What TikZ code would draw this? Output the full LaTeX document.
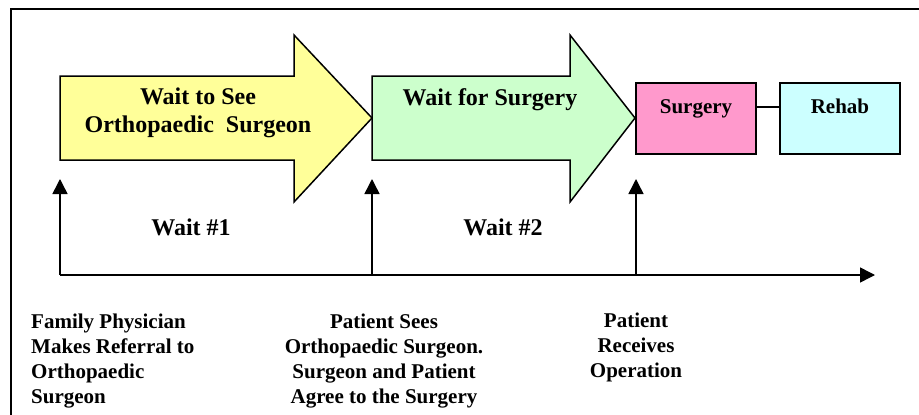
\documentclass[tikz,border=0pt]{standalone}
\usepackage{fontspec}
\setmainfont{Liberation Serif}
\usetikzlibrary{arrows.meta}
\definecolor{yel}{HTML}{FFFF99}
\definecolor{grn}{HTML}{CCFFCC}
\definecolor{pnk}{HTML}{FF99CC}
\definecolor{cyn}{HTML}{CCFFFF}
\begin{document}
\begin{tikzpicture}[x=1pt,y=-1pt,
  bigarrow/.style={draw=black,line width=1.5pt,line join=miter},
  boxnode/.style={draw=black,line width=1.5pt,minimum width=120pt,minimum height=71pt,inner sep=0pt},
  hdr/.style={font=\fontsize{24}{28}\selectfont\bfseries,align=center,inner sep=0pt,anchor=north},
  lbl/.style={font=\fontsize{21}{25}\selectfont\bfseries,align=center,inner sep=0pt,anchor=north},
  tip/.style={line width=1.5pt,-{Triangle[length=15pt,width=15pt]}}]
\clip (0,0) rectangle (919,415);
\useasboundingbox (0,0) rectangle (919,415);
\fill[white] (0,0) rectangle (919,415);
\draw[line width=2pt] (11,9) rectangle (940,440);
% big arrows
\draw[bigarrow,fill=yel] (60,76) -- (294,76) -- (294,35) -- (372,118) -- (294,202) -- (294,160) -- (60,160) -- cycle;
\draw[bigarrow,fill=grn] (372,76) -- (570,76) -- (570,35) -- (635,118) -- (570,202) -- (570,160) -- (372,160) -- cycle;
\node[hdr] (w1) at (198,88) {Wait to See\\Orthopaedic\ \ Surgeon};
\node[hdr] (w2) at (490,88) {Wait for Surgery};
% boxes
\node[boxnode,fill=pnk] (surg) at (696,118.5) {};
\node[boxnode,fill=cyn] (rehab) at (840,118.5) {};
\node[lbl] (surgt) at (696,99) {Surgery};
\node[lbl] (rehabt) at (840,99) {Rehab};
\draw[line width=1.5pt] ([yshift=11.5pt]surg.east) -- ([yshift=11.5pt]rehab.west);
% timeline
\coordinate (p1) at (60,275);
\coordinate (p2) at (372,275);
\coordinate (p3) at (636,275);
\coordinate (pend) at (875,275);
\coordinate (a1) at (60,179);
\coordinate (a2) at (372,179);
\coordinate (a3) at (636,179);
\draw[tip] (p1) -- (pend);
\draw[tip] (p1) -- (a1);
\draw[tip] (p2) -- (a2);
\draw[tip] (p3) -- (a3);
\node[hdr] (wait1) at (191,219) {Wait \#1};
\node[hdr] (wait2) at (503,219) {Wait \#2};
% bottom labels
\node[lbl,align=left,anchor=north west] (ev1) at (31,314) {Family Physician\\Makes Referral to\\Orthopaedic\\Surgeon};
\node[lbl] (ev2) at (384,314) {Patient Sees\\Orthopaedic Surgeon.\\Surgeon and Patient\\Agree to the Surgery};
\node[lbl] (ev3) at (636,313) {Patient\\Receives\\Operation};
\end{tikzpicture}
\end{document}
